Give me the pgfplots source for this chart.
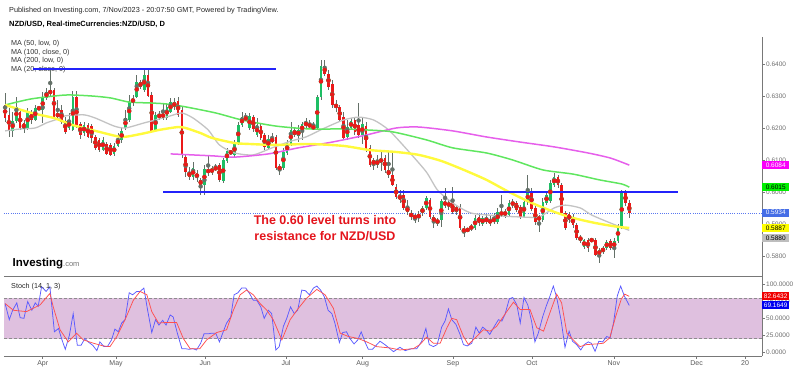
\documentclass[border=0pt]{standalone}
\usepackage{pgfplots}
\pgfplotsset{compat=1.18}
\usepackage{pgfplotstable}
\usepackage{fontspec}
\setmainfont{Liberation Sans}
\newcommand\sz[1]{\fontsize{#1}{#1}\selectfont}
\definecolor{cgreen}{RGB}{30,190,100}
\definecolor{cred}{RGB}{235,25,25}
\definecolor{cwick}{RGB}{100,112,104}
\definecolor{magl}{RGB}{230,95,235}
\definecolor{grnl}{RGB}{95,230,95}
\definecolor{yell}{RGB}{255,250,60}
\definecolor{grayl}{RGB}{195,195,195}
\definecolor{hblue}{RGB}{35,35,250}
\definecolor{dotblue}{RGB}{90,120,240}
\definecolor{band}{RGB}{223,192,223}
\definecolor{axgray}{RGB}{120,120,120}
\definecolor{lblgray}{RGB}{110,110,110}
\definecolor{annred}{RGB}{228,20,28}
\definecolor{stblue}{RGB}{90,90,255}
\definecolor{stred}{RGB}{255,80,80}
\pgfplotstableread{
i o h l c
-10 0.6272 0.6309 0.6219 0.6231
-9 0.6241 0.6263 0.6172 0.6194
-8 0.6191 0.6250 0.6172 0.6222
-7 0.6222 0.6297 0.6216 0.6266
-6 0.6250 0.6256 0.6194 0.6200
-5 0.6216 0.6225 0.6184 0.6197
-4 0.6200 0.6263 0.6194 0.6250
-3 0.6247 0.6256 0.6213 0.6225
-2 0.6225 0.6272 0.6222 0.6263
-1 0.6263 0.6266 0.6256 0.6261
0 0.6256 0.6313 0.6216 0.6297
1 0.6294 0.6325 0.6288 0.6313
2 0.6306 0.6381 0.6300 0.6319
3 0.6319 0.6325 0.6231 0.6234
4 0.6234 0.6288 0.6225 0.6247
5 0.6256 0.6272 0.6213 0.6219
6 0.6222 0.6234 0.6181 0.6188
7 0.6200 0.6247 0.6194 0.6222
8 0.6194 0.6316 0.6191 0.6297
9 0.6297 0.6316 0.6200 0.6203
10 0.6213 0.6219 0.6166 0.6178
11 0.6184 0.6219 0.6175 0.6209
12 0.6209 0.6216 0.6169 0.6172
13 0.6206 0.6213 0.6153 0.6169
14 0.6172 0.6178 0.6131 0.6138
15 0.6163 0.6169 0.6125 0.6131
16 0.6131 0.6172 0.6128 0.6163
17 0.6150 0.6156 0.6116 0.6119
18 0.6147 0.6153 0.6113 0.6116
19 0.6119 0.6153 0.6113 0.6144
20 0.6144 0.6184 0.6141 0.6169
21 0.6163 0.6200 0.6153 0.6191
22 0.6200 0.6256 0.6194 0.6231
23 0.6225 0.6303 0.6219 0.6281
24 0.6278 0.6303 0.6269 0.6294
25 0.6297 0.6366 0.6294 0.6344
26 0.6344 0.6350 0.6322 0.6328
27 0.6319 0.6381 0.6313 0.6366
28 0.6366 0.6384 0.6297 0.6300
29 0.6303 0.6313 0.6184 0.6191
30 0.6191 0.6250 0.6188 0.6241
31 0.6244 0.6253 0.6225 0.6231
32 0.6231 0.6278 0.6225 0.6247
33 0.6231 0.6278 0.6225 0.6266
34 0.6250 0.6294 0.6247 0.6281
35 0.6266 0.6294 0.6256 0.6281
36 0.6284 0.6297 0.6234 0.6241
37 0.6256 0.6266 0.6106 0.6116
38 0.6109 0.6116 0.6047 0.6063
39 0.6063 0.6078 0.6038 0.6047
40 0.6047 0.6094 0.6038 0.6075
41 0.6059 0.6069 0.6031 0.6044
42 0.6038 0.6044 0.5991 0.6022
43 0.6022 0.6084 0.5991 0.6072
44 0.6072 0.6116 0.6050 0.6059
45 0.6059 0.6081 0.6053 0.6075
46 0.6075 0.6088 0.6066 0.6073
47 0.6084 0.6091 0.6031 0.6038
48 0.6034 0.6106 0.6028 0.6100
49 0.6097 0.6138 0.6091 0.6128
50 0.6125 0.6131 0.6116 0.6123
51 0.6116 0.6163 0.6109 0.6150
52 0.6153 0.6219 0.6147 0.6209
53 0.6209 0.6250 0.6203 0.6234
54 0.6231 0.6247 0.6222 0.6229
55 0.6200 0.6247 0.6194 0.6238
56 0.6234 0.6241 0.6188 0.6197
57 0.6178 0.6231 0.6172 0.6209
58 0.6206 0.6213 0.6163 0.6169
59 0.6178 0.6184 0.6131 0.6141
60 0.6138 0.6178 0.6134 0.6166
61 0.6163 0.6184 0.6153 0.6161
62 0.6172 0.6178 0.6069 0.6075
63 0.6081 0.6088 0.6053 0.6069
64 0.6075 0.6138 0.6069 0.6125
65 0.6122 0.6163 0.6116 0.6153
66 0.6150 0.6219 0.6144 0.6194
67 0.6194 0.6203 0.6172 0.6178
68 0.6175 0.6209 0.6156 0.6194
69 0.6188 0.6219 0.6163 0.6213
70 0.6209 0.6231 0.6200 0.6216
71 0.6213 0.6225 0.6197 0.6203
72 0.6203 0.6219 0.6197 0.6201
73 0.6200 0.6303 0.6194 0.6297
74 0.6297 0.6413 0.6288 0.6394
75 0.6394 0.6413 0.6363 0.6369
76 0.6369 0.6381 0.6319 0.6328
77 0.6338 0.6350 0.6263 0.6272
78 0.6275 0.6288 0.6250 0.6263
79 0.6266 0.6272 0.6219 0.6225
80 0.6234 0.6250 0.6163 0.6169
81 0.6172 0.6225 0.6163 0.6203
82 0.6200 0.6231 0.6194 0.6222
83 0.6225 0.6234 0.6178 0.6188
84 0.6209 0.6278 0.6169 0.6178
85 0.6178 0.6231 0.6150 0.6213
86 0.6206 0.6219 0.6125 0.6131
87 0.6138 0.6147 0.6078 0.6084
88 0.6100 0.6106 0.6069 0.6084
89 0.6084 0.6116 0.6075 0.6100
90 0.6091 0.6131 0.6066 0.6106
91 0.6106 0.6116 0.6059 0.6069
92 0.6069 0.6131 0.6044 0.6053
93 0.6053 0.6122 0.6019 0.6022
94 0.6016 0.6025 0.5978 0.5984
95 0.5991 0.6006 0.5966 0.5975
96 0.5991 0.6006 0.5944 0.5950
97 0.5953 0.5975 0.5928 0.5938
98 0.5934 0.5944 0.5913 0.5922
99 0.5925 0.5931 0.5903 0.5919
100 0.5919 0.5941 0.5906 0.5931
101 0.5934 0.5956 0.5925 0.5950
102 0.5950 0.5988 0.5944 0.5981
103 0.5975 0.5981 0.5916 0.5922
104 0.5922 0.5928 0.5888 0.5906
105 0.5913 0.5919 0.5894 0.5903
106 0.5913 0.5978 0.5891 0.5972
107 0.5972 0.6013 0.5950 0.5956
108 0.5953 0.5978 0.5944 0.5969
109 0.5969 0.6016 0.5931 0.5938
110 0.5953 0.5959 0.5928 0.5938
111 0.5953 0.5963 0.5881 0.5888
112 0.5888 0.5894 0.5859 0.5872
113 0.5881 0.5888 0.5875 0.5882
114 0.5884 0.5900 0.5878 0.5894
115 0.5888 0.5928 0.5881 0.5919
116 0.5922 0.5931 0.5894 0.5903
117 0.5900 0.5925 0.5894 0.5919
118 0.5919 0.5931 0.5900 0.5906
119 0.5916 0.5925 0.5894 0.5900
120 0.5906 0.5934 0.5900 0.5919
121 0.5906 0.5950 0.5900 0.5938
122 0.5938 0.5991 0.5922 0.5928
123 0.5928 0.5947 0.5919 0.5938
124 0.5928 0.5975 0.5922 0.5966
125 0.5959 0.5978 0.5950 0.5969
126 0.5966 0.5972 0.5938 0.5944
127 0.5953 0.5959 0.5916 0.5922
128 0.5922 0.5978 0.5919 0.5969
129 0.5969 0.6053 0.5959 0.6000
130 0.6003 0.6013 0.5941 0.5947
131 0.5950 0.5956 0.5897 0.5906
132 0.5913 0.5928 0.5875 0.5922
133 0.5913 0.5981 0.5906 0.5969
134 0.5966 0.6000 0.5959 0.5991
135 0.5972 0.6038 0.5966 0.6028
136 0.6022 0.6059 0.6016 0.6047
137 0.6047 0.6053 0.6013 0.6022
138 0.6022 0.6028 0.5928 0.5934
139 0.5934 0.5941 0.5881 0.5888
140 0.5931 0.5938 0.5903 0.5913
141 0.5922 0.5931 0.5888 0.5897
142 0.5897 0.5903 0.5850 0.5856
143 0.5859 0.5866 0.5841 0.5850
144 0.5828 0.5853 0.5822 0.5850
145 0.5850 0.5856 0.5813 0.5825
146 0.5850 0.5856 0.5844 0.5849
147 0.5850 0.5856 0.5800 0.5803
148 0.5803 0.5825 0.5778 0.5819
149 0.5825 0.5831 0.5806 0.5813
150 0.5825 0.5850 0.5819 0.5844
151 0.5847 0.5853 0.5819 0.5825
152 0.5825 0.5856 0.5794 0.5847
153 0.5847 0.5900 0.5841 0.5894
154 0.5891 0.6006 0.5884 0.6000
155 0.5997 0.6006 0.5956 0.5966
156 0.5966 0.5975 0.5919 0.5934
}\candles
\pgfplotstableread{
i v
-10 72
-8.9 48
-8 62
-6.9 73
-6 51
-5 50
-4 75
-2.9 62
-2 73
-1.2 68
-0.3 97
0.9 90
1.9 97
3.1 30
4.2 35
5 20
6 4
7.1 25
8.1 57
9.2 10
10.2 10
11.2 20
12.1 15
13.3 10
14.4 2
15.2 15
16.3 8
17.2 8
18.3 18
19.2 34
20.1 30
21 43
21.9 48
23 88
23.9 85
25 90
25.9 90
26.9 95
27.9 62
29 29
30 48
30.9 40
31.9 47
32.8 40
33.9 55
34.7 52
35.8 28
37 5
37.8 5
38.9 4
39.9 5
40.9 3
42 13
42.9 27
44.1 27
44.9 28
46 28
47 15
48 30
48.9 43
50 52
50.9 85
51.9 88
52.9 95
54 95
55 87
56 77
56.9 77
58 67
58.9 50
60 62
60.9 57
62 3
62.9 8
64 38
64.9 50
65.9 67
66.9 57
67.8 62
68.9 92
69.9 91
70.9 85
72 95
72.9 98
73.9 92
74.9 82
75.9 62
76.9 57
77.7 43
78.9 14
79.8 29
80.8 30
81.7 20
82.8 12
83.8 18
84.7 30
85.7 15
86.6 4
87.7 4
88.7 10
89.7 16
91 11
93.3 0.5
95 7
96.4 2
98.1 5
99.5 5
100.8 16
101.9 35
102.8 11
103.9 8
104.9 11
106.1 37
107 46
107.9 64
108.8 48
109.9 41
111 26
111.9 11
112.9 9
114.1 13
115.2 37
116.1 28
117 37
117.9 33
118.9 26
120.1 38
121.2 48
122.1 46
122.9 55
124.1 79
125 81
126.1 70
127 43
128 81
129 70
130 46
130.9 15
131.8 28
133 53
133.9 68
134.9 83
135.8 98
136.7 81
137.9 46
138.9 7
140 31
140.9 16
142 11
143.1 3
144 11
145.1 15
145.9 13
146.9 1
147.9 16
148.9 15
150 23
150.9 21
151.8 43
152.8 83
153.7 98
154.7 83
156 69.16
}\stochk
\pgfplotstableread{
i v
-10 72
-7.8 62
-4.3 60
-2.5 65
-0.7 70
1.9 87
2.8 67
4.6 33
6.8 15
9 28
10.8 18
13.5 13
16.1 9
17.9 8
19.7 23
21.9 48
24.1 77
25.9 90
27.7 85
29 60
30.8 43
33 44
35.6 44
37.4 20
39.2 5
41.8 5
43.6 18
46.3 29
48.9 33
50.7 62
52.5 85
54.2 92
56 85
57.8 72
59.6 62
61.3 48
63.6 18
65.8 48
68 65
70.2 80
72.9 93
75.1 85
77.3 65
79.1 28
81.3 23
83.9 20
86.2 15
88.8 8
92.4 6
95 3
98.6 5
100.3 11
102.1 22
103.9 13
105.7 13
107.5 36
108.8 50
110.1 48
111.9 23
113.2 11
115.4 23
117.2 33
119 31
120.7 38
123.4 60
125.2 74
127 63
129.6 63
131.4 36
133.2 31
135 60
136.7 86
138 73
139.4 28
141.1 18
142.9 8
144.6 11
147.3 12
149.1 13
150.8 21
152.5 55
153.9 79
154.8 86
156 82.64
}\stochd
\begin{document}
\begin{tikzpicture}[x=1pt,y=1pt]
\node[anchor=west, inner sep=0, font=\sz{7.3}, text=black!85] at (9,360.5) {Published on Investing.com, 7/Nov/2023 - 20:07:50 GMT, Powered by TradingView.};
\node[anchor=west, inner sep=0, font=\bfseries\sz{7.5}] at (9,346.5) {NZD/USD, Real-timeCurrencies:NZD/USD, D};
\node[anchor=west, inner sep=0, font=\sz{7.2}, text=black!80] at (11,327.7) {MA (50, low, 0)};
\node[anchor=west, inner sep=0, font=\sz{7.2}, text=black!80] at (11,318.8) {MA (100, close, 0)};
\node[anchor=west, inner sep=0, font=\sz{7.2}, text=black!80] at (11,310) {MA (200, low, 0)};
\node[anchor=west, inner sep=0, font=\sz{7.2}, text=black!80] at (11,301.1) {MA (20, close, 0)};
\begin{axis}[
  at={(4pt,95pt)}, anchor=south west, scale only axis,
  width=758pt, height=239pt,
  xmin=-10.3, xmax=191.3, ymin=0.57375, ymax=0.6484375,
  axis x line*=bottom, axis y line*=right,
  xtick=\empty,
  ytick={0.58,0.59,0.60,0.61,0.62,0.63,0.64},
  yticklabels={0.5800,0.5900,0.6000,0.6100,0.6200,0.6300,0.6400},
  tick align=outside, major tick length=3pt,
  tick style={axgray, line width=0.6pt},
  axis line style={axgray, line width=0.7pt},
  yticklabel style={font=\sz{6.5}, text=lblgray, inner sep=1pt},
]
\addplot[color=dotblue, line width=0.7pt, dash pattern=on 1pt off 1.2pt, forget plot] coordinates {(-10.3,0.5934) (191.3,0.5934)};
% wicks
\addplot[color=cwick, only marks, mark=none, forget plot,
  error bars/y dir=both, error bars/y explicit, error bars/error mark=none,
  error bars/error bar style={line width=0.65pt, color=cwick}]
  table[x=i, y expr={(\thisrow{h}+\thisrow{l})/2}, y error expr={(\thisrow{h}-\thisrow{l})/2}] {\candles};
% up bodies (down candles get a zero-length bar, which draws nothing)
\addplot[color=cgreen, only marks, mark=none, forget plot,
  error bars/y dir=both, error bars/y explicit, error bars/error mark=none,
  error bars/error bar style={line width=2.6pt, color=cgreen, line cap=butt}]
  table[x=i, y expr={(\thisrow{o}+\thisrow{c})/2}, y error expr={ifthenelse(\thisrow{c}<\thisrow{o},0,max(abs(\thisrow{c}-\thisrow{o})/2,0.00013))}] {\candles};
% down bodies
\addplot[color=cred, only marks, mark=none, forget plot,
  error bars/y dir=both, error bars/y explicit, error bars/error mark=none,
  error bars/error bar style={line width=2.6pt, color=cred, line cap=butt}]
  table[x=i, y expr={(\thisrow{o}+\thisrow{c})/2}, y error expr={ifthenelse(\thisrow{c}<\thisrow{o},max(abs(\thisrow{c}-\thisrow{o})/2,0.00013),0)}] {\candles};
% moving averages
\addplot[color=grayl, line width=1.3pt, smooth, tension=0.4] coordinates {(-10,0.6191) (-6,0.6197) (-2,0.6200) (1,0.6216) (4,0.6228) (6,0.6238) (11,0.6241) (14,0.6231) (19,0.6206) (22,0.6200) (27,0.6216) (30,0.6225) (34,0.6238) (37,0.6247) (40,0.6231) (44,0.6194) (47,0.6147) (51,0.6122) (56,0.6116) (61,0.6138) (66,0.6159) (70,0.6172) (75,0.6200) (80,0.6225) (84,0.6234) (88,0.6225) (92,0.6194) (97,0.6131) (102,0.6063) (105,0.6006) (109,0.5966) (114,0.5934) (122,0.5925) (127,0.5922) (132,0.5922) (136,0.5950) (139,0.5959) (143,0.5950) (146,0.5928) (151,0.5903) (156,0.5880)};
\addplot[color=magl, line width=1.5pt, smooth, tension=0.4] coordinates {(34,0.6119) (45,0.6113) (51,0.6109) (60,0.6119) (68,0.6138) (77,0.6156) (86,0.6178) (94,0.6200) (100,0.6203) (109,0.6191) (118,0.6172) (127,0.6156) (136,0.6141) (145,0.6122) (151,0.6106) (156,0.6084)};
\addplot[color=grnl, line width=1.5pt, smooth, tension=0.4] coordinates {(-10,0.6272) (-3,0.6291) (6,0.6303) (13,0.6300) (18,0.6294) (23,0.6281) (29,0.6278) (33,0.6275) (38,0.6266) (46,0.6247) (53,0.6225) (62,0.6206) (71,0.6197) (80,0.6197) (86,0.6194) (93,0.6188) (102,0.6163) (109,0.6138) (118,0.6122) (125,0.6100) (133,0.6069) (141,0.6056) (148,0.6038) (154,0.6025) (156,0.6015)};
\addplot[color=yell, line width=2.4pt, smooth, tension=0.4] coordinates {(-10,0.6272) (-3,0.6247) (3,0.6231) (8,0.6209) (15,0.6188) (21,0.6172) (26,0.6181) (31,0.6194) (36,0.6203) (38,0.6200) (42,0.6184) (45,0.6169) (51,0.6153) (55,0.6150) (62,0.6147) (71,0.6150) (80,0.6144) (87,0.6131) (94,0.6125) (100,0.6116) (106,0.6097) (112,0.6069) (118,0.6038) (124,0.6000) (130,0.5966) (136,0.5938) (141,0.5919) (147,0.5903) (153,0.5891) (156,0.5888)};
% horizontal levels
\addplot[color=hblue, line width=1.9pt] coordinates {(-2.6,0.6383) (62.0,0.6383)};
\addplot[color=hblue, line width=1.9pt] coordinates {(32.0,0.6001) (168.9,0.6001)};
\end{axis}
\begin{axis}[
  at={(4pt,15pt)}, anchor=south west, scale only axis,
  width=758pt, height=80pt,
  xmin=-10.3, xmax=191.3, ymin=-5.94, ymax=112.93,
  axis x line*=bottom, axis y line*=right,
  xtick={0,19.5,43.2,64.7,85.1,109.1,130.1,151.9,173.9,186.8},
  xticklabels={Apr,May,Jun,Jul,Aug,Sep,Oct,Nov,Dec,20},
  ytick={0,25,50,75,100},
  yticklabels={0.0000,25.0000,50.0000,75.0000,100.0000},
  tick align=outside, major tick length=3pt,
  tick style={axgray, line width=0.6pt},
  axis line style={axgray, line width=0.7pt},
  yticklabel style={font=\sz{6.5}, text=lblgray, inner sep=1pt},
  xticklabel style={font=\sz{7}, text=black!65, inner sep=1pt},
]
\addplot[fill=band, draw=none, forget plot] coordinates {(-10.3,20) (191.3,20) (191.3,80) (-10.3,80)} -- cycle;
\addplot[draw=black!45, line width=0.7pt, dash pattern=on 3pt off 2pt] coordinates {(-10.3,80) (191.3,80)};
\addplot[draw=black!45, line width=0.7pt, dash pattern=on 3pt off 2pt] coordinates {(-10.3,20) (191.3,20)};
\addplot[color=stblue, line width=0.75pt] table[x=i, y=v] {\stochk};
\addplot[color=stred, line width=0.75pt] table[x=i, y=v] {\stochd};
\end{axis}
% price boxes
\tikzset{pbox/.style={anchor=west, inner sep=0, minimum width=27pt, minimum height=8pt, font=\sz{6.5}}}
\node[pbox, fill={rgb,255:red,250;green,0;blue,250}, text=white] at (762,205.9) {0.6084};
\node[pbox, fill={rgb,255:red,0;green,240;blue,0}, text=black] at (762,183.5) {0.6015};
\node[pbox, fill={rgb,255:red,70;green,110;blue,230}, text=white] at (762,158.3) {0.5934};
\node[pbox, fill={rgb,255:red,255;green,255;blue,0}, text=black] at (762,143) {0.5887};
\node[pbox, fill={rgb,255:red,190;green,190;blue,190}, text=black] at (762,133) {0.5880};
\node[pbox, fill={rgb,255:red,240;green,0;blue,0}, text=white] at (762,75) {82.6432};
\node[pbox, fill={rgb,255:red,0;green,0;blue,240}, text=white] at (762,66) {69.1649};
% logo and labels
\node[anchor=base west, inner sep=0] at (12.5,104) {{\bfseries\sz{11.5}Investing}{\sz{7.5}\color{black!55}.com}};
\node[anchor=west, inner sep=0, font=\sz{7.2}, text=black!85] at (11,84.3) {Stoch (14, 1, 3)};
\node[align=center, inner sep=0, font=\bfseries\fontsize{12.5}{15.3}\selectfont, text=annred] at (325,143) {The 0.60 level turns into\\resistance for NZD/USD};
\pgfresetboundingbox
\path[use as bounding box] (0,0) rectangle (800,371);
\end{tikzpicture}
\end{document}
